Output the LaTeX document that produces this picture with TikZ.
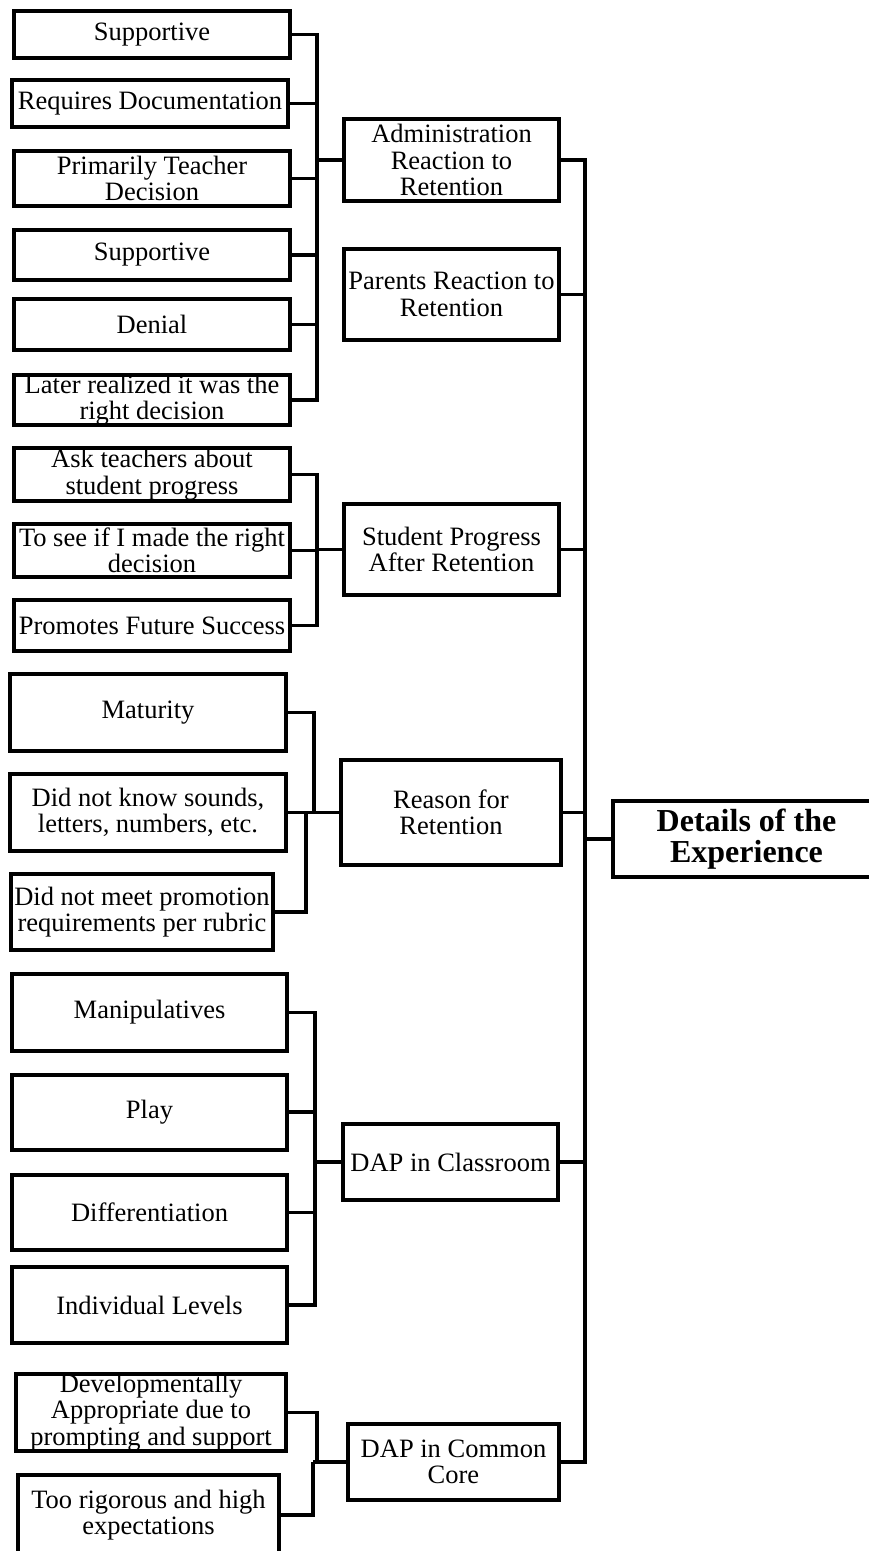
\documentclass[tikz,border=0pt]{standalone}
\usepackage{fontspec}
\setmainfont{Liberation Serif}
\begin{document}
\begin{tikzpicture}[x=1pt,y=-1pt,
    box/.style={draw, line width=4pt, align=center, inner sep=0pt,
      font=\fontsize{26.5}{26.5}\selectfont},
    link/.style={line width=3.5pt}]
      \useasboundingbox (0,0) rectangle (869,1551);
      \node[box, minimum width=276pt, minimum height=47pt] (sup1) at (152,34.5) {Supportive};
      \node[box, minimum width=276pt, minimum height=47pt] (reqdoc) at (150,103.5) {Requires Documentation};
      \node[box, minimum width=276pt, minimum height=55pt] (teacher) at (152,178.5) {Primarily Teacher\\Decision};
      \node[box, minimum width=276pt, minimum height=50pt] (sup2) at (152,255) {Supportive};
      \node[box, minimum width=276pt, minimum height=51pt] (denial) at (152,324.5) {Denial};
      \node[box, minimum width=276pt, minimum height=50pt] (later) at (152,400) {Later realized it was the\\right decision};
      \node[box, minimum width=276pt, minimum height=53pt] (ask) at (152,474.5) {Ask teachers about\\student progress};
      \node[box, minimum width=276pt, minimum height=53pt] (tosee) at (152,550.5) {To see if I made the right\\decision};
      \node[box, minimum width=276pt, minimum height=51pt] (promotes) at (152,625.5) {Promotes Future Success};
      \node[box, minimum width=276pt, minimum height=77pt] (maturity) at (148,712.5) {Maturity};
      \node[box, minimum width=276pt, minimum height=77pt] (know) at (148,812.5) {Did not know sounds,\\letters, numbers, etc.};
      \node[box, minimum width=262pt, minimum height=76pt] (meet) at (142,912) {Did not meet promotion\\requirements per rubric};
      \node[box, minimum width=275pt, minimum height=77pt] (manip) at (149.5,1012.5) {Manipulatives};
      \node[box, minimum width=275pt, minimum height=75pt] (play) at (149.5,1112) {Play};
      \node[box, minimum width=275pt, minimum height=75pt] (diff) at (149.5,1212.5) {Differentiation};
      \node[box, minimum width=275pt, minimum height=76pt] (indiv) at (149.5,1305) {Individual Levels};
      \node[box, minimum width=270pt, minimum height=75pt] (devel) at (151,1412.5) {Developmentally\\Appropriate due to\\prompting and support};
      \node[box, minimum width=261pt, minimum height=80pt] (toorig) at (148.5,1515) {Too rigorous and high\\expectations};

      \node[box, minimum width=215pt, minimum height=82pt] (admin) at (451.5,160) {Administration\\Reaction to\\Retention};
      \node[box, minimum width=215pt, minimum height=91pt] (parents) at (451.5,294.5) {Parents Reaction to\\Retention};
      \node[box, minimum width=215pt, minimum height=91pt] (student) at (451.5,549.5) {Student Progress\\After Retention};
      \node[box, minimum width=220pt, minimum height=105pt] (reason) at (451,812.5) {Reason for\\Retention};
      \node[box, minimum width=215pt, minimum height=76pt] (classroom) at (450.5,1162) {DAP in Classroom};
      \node[box, minimum width=211pt, minimum height=76pt] (core) at (453.5,1462) {DAP in Common\\Core};

      \node[box, minimum width=267pt, minimum height=76pt,
        font=\fontsize{32}{31}\selectfont\bfseries] (details) at (746.5,839) {Details of the\\Experience};

      \coordinate (ja) at (317,160);
      \coordinate (jb) at (317,549.5);
      \coordinate (jc1) at (314,812.5);
      \coordinate (jc2) at (306,812.5);
      \coordinate (jd) at (315,1162);
      \coordinate (je1) at (317,1462);
      \coordinate (je2) at (313,1462);
      \coordinate (jr) at (585,839);

      \draw[link] (admin.west) -- (ja)
        (sup1.east) -| (ja) (reqdoc.east) -| (ja) (teacher.east) -| (ja)
        (sup2.east) -| (ja) (denial.east) -| (ja) (later.east) -| (ja);
      \draw[link] (student.west) -- (jb)
        (ask.east) -| (jb) (tosee.east) -| (jb) (promotes.east) -| (jb);
      \draw[link] (know.east) -- (reason.west)
        (maturity.east) -| (jc1) (meet.east) -| (jc2);
      \draw[link] (classroom.west) -- (jd)
        (manip.east) -| (jd) (play.east) -| (jd) (diff.east) -| (jd) (indiv.east) -| (jd);
      \draw[link] (core.west) -- (je2)
        (devel.east) -| (je1) (toorig.east) -| (je2);
      \draw[link] (details.west) -- (jr)
        (admin.east) -| (jr) (parents.east) -| (jr) (student.east) -| (jr)
        (reason.east) -| (jr) (classroom.east) -| (jr) (core.east) -| (jr);
    \end{tikzpicture}
\end{document}
